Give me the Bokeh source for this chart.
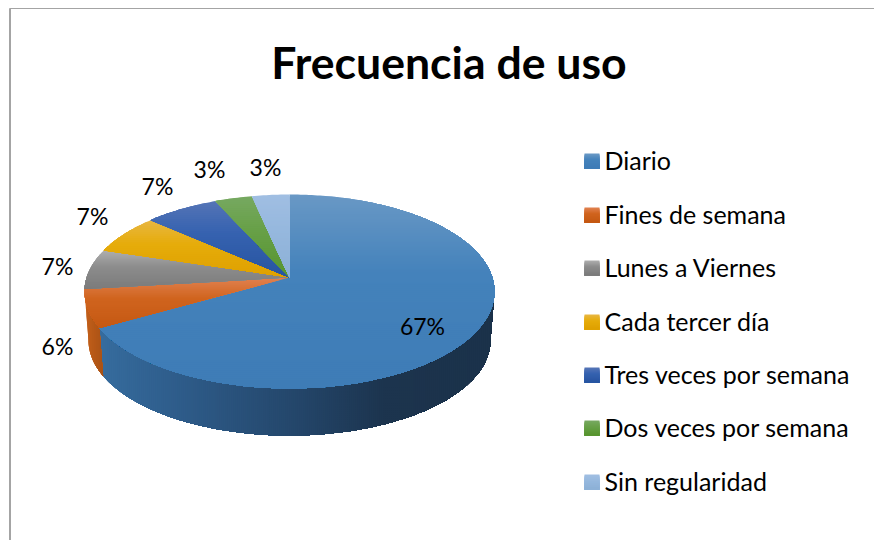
import math
from bokeh.plotting import figure
from bokeh.models import Range1d
from bokeh.core.properties import value
from bokeh.embed import file_html
from bokeh.resources import INLINE

# ---- data ----
TITLE = "Frecuencia de uso"
categories = ["Diario", "Fines de semana", "Lunes a Viernes", "Cada tercer día",
              "Tres veces por semana", "Dos veces por semana", "Sin regularidad"]
values = [66.8, 6.3, 6.7, 6.7, 6.7, 3.4, 3.4]

# ---- style ----
FONT = "Lato"
top_stops = [
    ((105, 152, 197), (68, 130, 187), (62, 124, 182)),
    ((224, 128, 78), (208, 100, 30), (196, 88, 18)),
    ((172, 172, 172), (140, 140, 140), (122, 122, 122)),
    ((232, 182, 64), (230, 172, 10), (222, 160, 0)),
    ((84, 116, 182), (54, 98, 176), (38, 84, 160)),
    ((118, 168, 96), (104, 160, 72), (86, 148, 46)),
    ((160, 190, 226), (150, 184, 222), (140, 176, 214)),
]
side_stops = {
    0: [(0.0, (54, 108, 158)), (0.20, (46, 92, 138)), (0.50, (36, 70, 106)),
        (0.72, (28, 52, 78)), (1.0, (27, 50, 74))],
    1: [(0.0, (196, 96, 26)), (1.0, (166, 80, 20))],
}
label_pos = [(422, 325), (57, 345), (57, 265), (92, 215), (157, 185), (209, 168), (265, 166)]
legend_rows = [161, 215, 268, 322, 375, 428, 482]

CX, CY_TOP, RX_TOP, RY_TOP = 289.0, 291.0, 205.0, 97.0
CY_BOT, RX_BOT, RY_BOT = 340.0, 201.0, 95.0
C = 14.0 / 97.0  # perspective strength


def project(frac, cy, rx, ry):
    t = 2 * math.pi * frac
    sx, cs = math.sin(t), math.cos(t)
    den = 1 + C * cs
    return (CX + rx * math.sqrt(1 - C * C) * sx / den, cy - ry * (cs + C) / den)


def clip(poly, axis, limit):
    out = []
    for i in range(len(poly)):
        a, b = poly[i], poly[(i + 1) % len(poly)]
        ina, inb = a[axis] >= limit, b[axis] >= limit
        if ina:
            out.append(a)
        if ina != inb:
            f = (limit - a[axis]) / (b[axis] - a[axis])
            out.append((a[0] + f * (b[0] - a[0]), a[1] + f * (b[1] - a[1])))
    return out


def hexc(c):
    return "#%02x%02x%02x" % tuple(int(round(v)) for v in c)


def mix(a, b, f):
    return tuple(x + (y - x) * f for x, y in zip(a, b))


def top_color(stops, f):
    return mix(stops[0], stops[1], f / 0.4) if f < 0.4 else mix(stops[1], stops[2], (f - 0.4) / 0.6)


def ramp(stops, f):
    for (f0, c0), (f1, c1) in zip(stops, stops[1:]):
        if f <= f1:
            return mix(c0, c1, (f - f0) / (f1 - f0))
    return stops[-1][1]


total = sum(values)
cum = [0.0]
for v in values:
    cum.append(cum[-1] + v / total)

p = figure(width=874, height=540, x_range=Range1d(0, 874), y_range=Range1d(540, 0),
           toolbar_location=None, output_backend="svg", min_border=0,
           outline_line_color=None, background_fill_color="white", border_fill_color="white")
p.axis.visible = False
p.grid.visible = False

# chart frame
p.line([9.5, 9.5], [540, 8], line_color="#a4a4a4", line_width=2)
p.line([9, 874], [8, 8], line_color="#a4a4a4", line_width=1)

# side wall
RIGHTMOST = (math.pi / 2 + math.asin(C)) / (2 * math.pi)
LEFTMOST = 1 - RIGHTMOST
xs, ys, cols = [], [], []
for idx, (a, b) in enumerate([(RIGHTMOST, cum[1]), (cum[1], min(cum[2], LEFTMOST))]):
    n = 80
    fr = [a + (b - a) * i / n for i in range(n + 1)]
    poly = [project(f, CY_TOP, RX_TOP, RY_TOP) for f in fr] + \
           [project(f, CY_BOT, RX_BOT, RY_BOT) for f in reversed(fr)]
    x0, x1 = min(q[0] for q in poly), max(q[0] for q in poly)
    x = x0
    while x < x1:
        part = clip(poly, 0, x)
        if len(part) >= 3:
            xs.append([q[0] for q in part])
            ys.append([q[1] for q in part])
            cols.append(hexc(ramp(side_stops[idx], (x - x0) / (x1 - x0))))
        x += 2.0
p.patches(xs, ys, fill_color=cols, line_color=None)

# top surface, each wedge shaded top to bottom
xs, ys, cols = [], [], []
for i in range(len(values)):
    n = max(8, int((cum[i + 1] - cum[i]) * 400))
    poly = [project(cum[i] + (cum[i + 1] - cum[i]) * k / n, CY_TOP, RX_TOP, RY_TOP)
            for k in range(n + 1)]
    poly.append((CX, CY_TOP - RY_TOP * C))
    y0, y1 = min(q[1] for q in poly), max(q[1] for q in poly)
    y = y0
    while y < y1:
        part = clip(poly, 1, y)
        if len(part) >= 3:
            xs.append([q[0] for q in part])
            ys.append([q[1] for q in part])
            cols.append(hexc(top_color(top_stops[i], (y - y0) / (y1 - y0))))
        y += 2.0
p.patches(xs, ys, fill_color=cols, line_color=None)

# percentage labels
p.text([q[0] for q in label_pos], [q[1] for q in label_pos],
       text=["%d%%" % round(v) for v in values],
       text_font=value(FONT), text_font_size="23px", text_color="#000000",
       text_align="center", text_baseline="middle")

# legend
qx0, qx1, qb, qt, qc = [], [], [], [], []
for i, yc in enumerate(legend_rows):
    for k in range(15):
        qx0.append(584); qx1.append(599)
        qt.append(yc - 8 + k); qb.append(yc + 7)
        qc.append(hexc(top_color(top_stops[i], k / 14)))
p.quad(left=qx0, right=qx1, top=qt, bottom=qb, fill_color=qc, line_color=None)
p.text([604] * len(categories), [y - 2 for y in legend_rows], text=categories,
       text_font=value(FONT), text_font_size="25px", text_color="#000000",
       text_align="left", text_baseline="middle")

# title
p.text([448.5], [61], text=[TITLE], text_font=value(FONT), text_font_style="bold",
       text_font_size="44.6px", text_color="#000000", text_align="center", text_baseline="middle")

open("out.html", "w").write(file_html(p, INLINE))
